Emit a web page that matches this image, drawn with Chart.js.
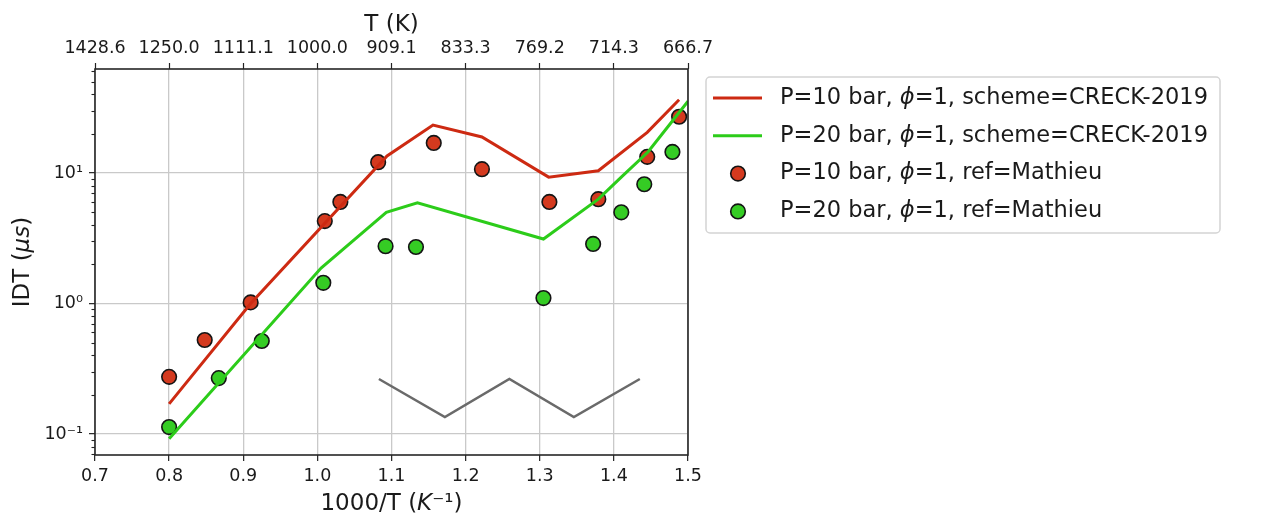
<!DOCTYPE html>
<html>
<head>
<meta charset="utf-8">
<script src="https://cdn.jsdelivr.net/npm/chart.js@4.4.0/dist/chart.umd.min.js"></script>
<style>
  html, body { margin: 0; padding: 0; background: #fff; }
  #wrap { width: 1274px; height: 518px; }
</style>
</head>
<body>
<div id="wrap"><canvas id="idtChart" width="1274" height="518"></canvas></div>
<script>
// CRECK-2019 simulation, 10 bar
const model10X = [0.80, 0.91, 1.094, 1.156, 1.222, 1.312, 1.379, 1.445, 1.488];
const model10Y = [0.17, 1.0, 13.5, 23.3, 18.9, 9.3, 10.4, 20.5, 36.4];
// CRECK-2019 simulation, 20 bar
const model20X = [0.80, 1.005, 1.093, 1.135, 1.305, 1.379, 1.41, 1.446, 1.50];
const model20Y = [0.092, 1.87, 5.0, 5.9, 3.12, 6.3, 9.3, 14.5, 35.5];
// Mathieu shock tube measurements
const exp10X = [0.80, 0.848, 0.91, 1.01, 1.031, 1.082, 1.157, 1.222, 1.313, 1.379, 1.445, 1.488];
const exp10Y = [0.274, 0.525, 1.02, 4.28, 6.0, 12.1, 17.0, 10.7, 6.0, 6.3, 13.3, 27];
const exp20X = [0.80, 0.867, 0.925, 1.008, 1.092, 1.133, 1.305, 1.372, 1.41, 1.441, 1.479];
const exp20Y = [0.113, 0.268, 0.516, 1.44, 2.75, 2.71, 1.10, 2.86, 5.0, 8.2, 14.5];
// grey polyline in the lower part of the axes
const zigX = [1.083, 1.172, 1.259, 1.346, 1.435];
const zigY = [0.264, 0.135, 0.264, 0.135, 0.264];

const yMajor = [0.1, 1, 10];
const yMinor = [0.07, 0.08, 0.09, 0.2, 0.3, 0.4, 0.5, 0.6, 0.7, 0.8, 0.9,
                2, 3, 4, 5, 6, 7, 8, 9, 20, 30, 40, 50, 60];
const yLabels = {0.1: '10\u207B\u00B9', 1: '10\u2070', 10: '10\u00B9'};

const FONT = '"DejaVu Sans", sans-serif';
const INK = '#1a1a1a';

function pts(xs, ys) {
    return xs.map((x, i) => ({x: x, y: ys[i]}));
}

function drawRich(ctx, parts, x, y, size, align) {
    const fontFor = p => (p.i ? 'italic ' : '') + size + 'px ' + FONT;
    let total = 0;
    parts.forEach(p => { ctx.font = fontFor(p); total += ctx.measureText(p.t).width; });
    let cx = align === 'center' ? x - total / 2 : x;
    ctx.textAlign = 'left';
    parts.forEach(p => {
        ctx.font = fontFor(p);
        ctx.fillText(p.t, cx, y);
        cx += ctx.measureText(p.t).width;
    });
}

const decor = {
    id: 'decor',
    afterDatasetsDraw(chart) {
        const ctx = chart.ctx;
        const a = chart.chartArea;
        const ys = chart.scales.y;
        ctx.save();
        // minor ticks on the log axis
        ctx.strokeStyle = '#222';
        ctx.lineWidth = 1.1;
        yMinor.forEach(v => {
            const py = Math.round(ys.getPixelForValue(v)) + 0.5;
            ctx.beginPath();
            ctx.moveTo(a.left - 3.5, py);
            ctx.lineTo(a.left, py);
            ctx.stroke();
        });
        // axes frame
        ctx.strokeStyle = '#262626';
        ctx.lineWidth = 1.6;
        ctx.strokeRect(a.left, a.top, a.right - a.left, a.bottom - a.top);
        ctx.restore();
    },
    afterDraw(chart) {
        const ctx = chart.ctx;
        const a = chart.chartArea;
        ctx.save();
        ctx.fillStyle = INK;
        ctx.textBaseline = 'middle';
        drawRich(ctx, [{t: '1000/T ('}, {t: 'K', i: true}, {t: '\u207B\u00B9'}, {t: ')'}],
                 (a.left + a.right) / 2, 504, 23, 'center');
        ctx.save();
        ctx.translate(23, (a.top + a.bottom) / 2);
        ctx.rotate(-Math.PI / 2);
        drawRich(ctx, [{t: 'IDT ('}, {t: '\u03BCs', i: true}, {t: ')'}], 0, 0, 23, 'center');
        ctx.restore();

        // legend box
        const bx = 706, by = 77, bw = 514, bh = 156;
        ctx.beginPath();
        ctx.roundRect(bx, by, bw, bh, 4);
        ctx.fillStyle = '#fff';
        ctx.fill();
        ctx.strokeStyle = '#d4d4d4';
        ctx.lineWidth = 1.5;
        ctx.stroke();

        const items = chart.data.datasets.filter(d => d.label);
        items.forEach((d, i) => {
            const cy = 98 + i * 37.8;
            if (d.showLine === false) {
                ctx.beginPath();
                ctx.arc(738, cy, d.pointRadius, 0, Math.PI * 2);
                ctx.fillStyle = d.backgroundColor;
                ctx.fill();
                ctx.lineWidth = d.pointBorderWidth;
                ctx.strokeStyle = d.pointBorderColor;
                ctx.stroke();
            } else {
                ctx.beginPath();
                ctx.moveTo(713, cy);
                ctx.lineTo(762, cy);
                ctx.lineWidth = d.borderWidth;
                ctx.strokeStyle = d.borderColor;
                ctx.stroke();
            }
            ctx.fillStyle = INK;
            const parts = d.label.split(/(\u03D5)/).filter(s => s).map(s => ({t: s, i: s === '\u03D5'}));
            drawRich(ctx, parts, 780, cy, 22.5, 'left');
        });
        ctx.restore();
    }
};

const tickFont = {family: FONT, size: 17.5};

new Chart(document.getElementById('idtChart'), {
    type: 'line',
    data: {
        datasets: [
            {
                label: 'P=10 bar, \u03D5=1, scheme=CRECK-2019',
                data: pts(model10X, model10Y),
                borderColor: '#cd2a12', borderWidth: 3, pointRadius: 0, tension: 0, order: 0
            },
            {
                label: 'P=20 bar, \u03D5=1, scheme=CRECK-2019',
                data: pts(model20X, model20Y),
                borderColor: '#2ccc1a', borderWidth: 3, pointRadius: 0, tension: 0, order: 0
            },
            {
                label: 'P=10 bar, \u03D5=1, ref=Mathieu',
                data: pts(exp10X, exp10Y), showLine: false,
                backgroundColor: '#d43a1f', pointBackgroundColor: '#d43a1f',
                pointBorderColor: '#141414', pointBorderWidth: 1.6, pointRadius: 7.3, order: 2
            },
            {
                label: 'P=20 bar, \u03D5=1, ref=Mathieu',
                data: pts(exp20X, exp20Y), showLine: false,
                backgroundColor: '#35cc24', pointBackgroundColor: '#35cc24',
                pointBorderColor: '#141414', pointBorderWidth: 1.6, pointRadius: 7.3, order: 2
            },
            {
                data: pts(zigX, zigY),
                borderColor: '#6a6a6a', borderWidth: 2.5, pointRadius: 0, tension: 0, order: 1
            }
        ]
    },
    options: {
        responsive: false,
        animation: false,
        layout: {padding: {left: 0, top: 0, bottom: 0, right: 586}},
        plugins: {legend: {display: false}, tooltip: {enabled: false}},
        scales: {
            x: {
                type: 'linear', position: 'bottom', min: 0.7, max: 1.5,
                ticks: {stepSize: 0.1, callback: v => v.toFixed(1), font: tickFont, color: INK,
                        padding: 5, maxRotation: 0, autoSkip: false},
                grid: {color: '#c9c9c9', lineWidth: 1.3, tickLength: 6, tickColor: '#222', tickWidth: 1.2},
                border: {display: false},
                afterFit: s => { s.height = 63; }
            },
            x2: {
                type: 'linear', position: 'top', min: 0.7, max: 1.5,
                ticks: {stepSize: 0.1, callback: v => (1000 / v).toFixed(1), font: tickFont, color: INK,
                        padding: 4, maxRotation: 0, autoSkip: false},
                grid: {drawOnChartArea: false, tickLength: 6, tickColor: '#222', tickWidth: 1.2},
                border: {display: false},
                title: {display: true, text: 'T (K)', color: INK, font: {family: FONT, size: 23},
                        padding: {top: 11, bottom: 0}},
                afterFit: s => { s.height = 69; }
            },
            y: {
                type: 'logarithmic', min: 0.069, max: 62.7,
                afterBuildTicks: s => { s.ticks = yMajor.map(v => ({value: v, major: true})); },
                ticks: {callback: v => yLabels[v] || '', font: tickFont, color: INK, padding: 6,
                        autoSkip: false},
                grid: {color: '#c9c9c9', lineWidth: 1.3, tickLength: 6, tickColor: '#222', tickWidth: 1.2},
                border: {display: false},
                afterFit: s => { s.width = 95; }
            }
        }
    },
    plugins: [decor]
});
</script>
</body>
</html>
